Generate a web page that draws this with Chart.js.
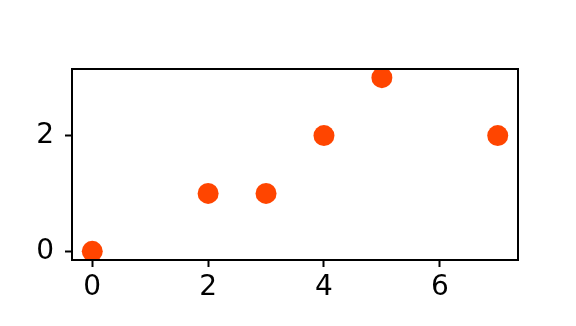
<!DOCTYPE html>
<html>
<head>
<meta charset="utf-8">
<script src="https://cdn.jsdelivr.net/npm/chart.js@4"></script>
<style>
    html, body { margin: 0; padding: 0; background: #ffffff; }
    #wrap { width: 576px; height: 326px; }
</style>
</head>
<body>
<div id="wrap"><canvas id="scatterChart" width="576" height="326"></canvas></div>
<script>
// data
const xValues = [0, 2, 3, 4, 5, 7];
const yValues = [0, 1, 1, 2, 3, 2];
const xTicks = [0, 2, 4, 6];
const yTicks = [0, 2];

const points = xValues.map((x, i) => ({ x: x, y: yValues[i] }));

// box around the plot area, like matplotlib spines
const frame = {
    id: "frame",
    afterDatasetsDraw(chart) {
        const a = chart.chartArea;
        const ctx = chart.ctx;
        ctx.save();
        ctx.strokeStyle = "#000000";
        ctx.lineWidth = 2;
        ctx.strokeRect(a.left, a.top, a.right - a.left, a.bottom - a.top);
        ctx.restore();
    }
};

const gridOpts = {
    display: true,
    drawOnChartArea: false,
    drawTicks: true,
    tickLength: 7,
    tickColor: "#000000",
    tickWidth: 2
};

new Chart(document.getElementById("scatterChart"), {
    type: "scatter",
    data: {
        datasets: [{
            data: points,
            backgroundColor: "#FF4500",
            borderWidth: 0,
            pointRadius: 10.5,
            pointHoverRadius: 10.5
        }]
    },
    options: {
        responsive: false,
        animation: false,
        events: [],
        layout: {
            padding: { left: 0, top: 69, right: 58, bottom: 0 }
        },
        plugins: {
            legend: { display: false },
            tooltip: { enabled: false }
        },
        scales: {
            x: {
                type: "linear",
                min: -0.35,
                max: 7.35,
                grid: gridOpts,
                border: { display: false },
                afterBuildTicks: (scale) => {
                    scale.ticks = xTicks.map(v => ({ value: v }));
                },
                afterFit: (scale) => { scale.height = 66; },
                ticks: {
                    color: "#000000",
                    font: { family: "DejaVu Sans", size: 28 },
                    padding: 4,
                    maxRotation: 0
                }
            },
            y: {
                type: "linear",
                min: -0.15,
                max: 3.15,
                grid: gridOpts,
                border: { display: false },
                afterBuildTicks: (scale) => {
                    scale.ticks = yTicks.map(v => ({ value: v }));
                },
                afterFit: (scale) => { scale.width = 72; },
                ticks: {
                    color: "#000000",
                    font: { family: "DejaVu Sans", size: 28 },
                    padding: 11
                }
            }
        }
    },
    plugins: [frame]
});
</script>
</body>
</html>
